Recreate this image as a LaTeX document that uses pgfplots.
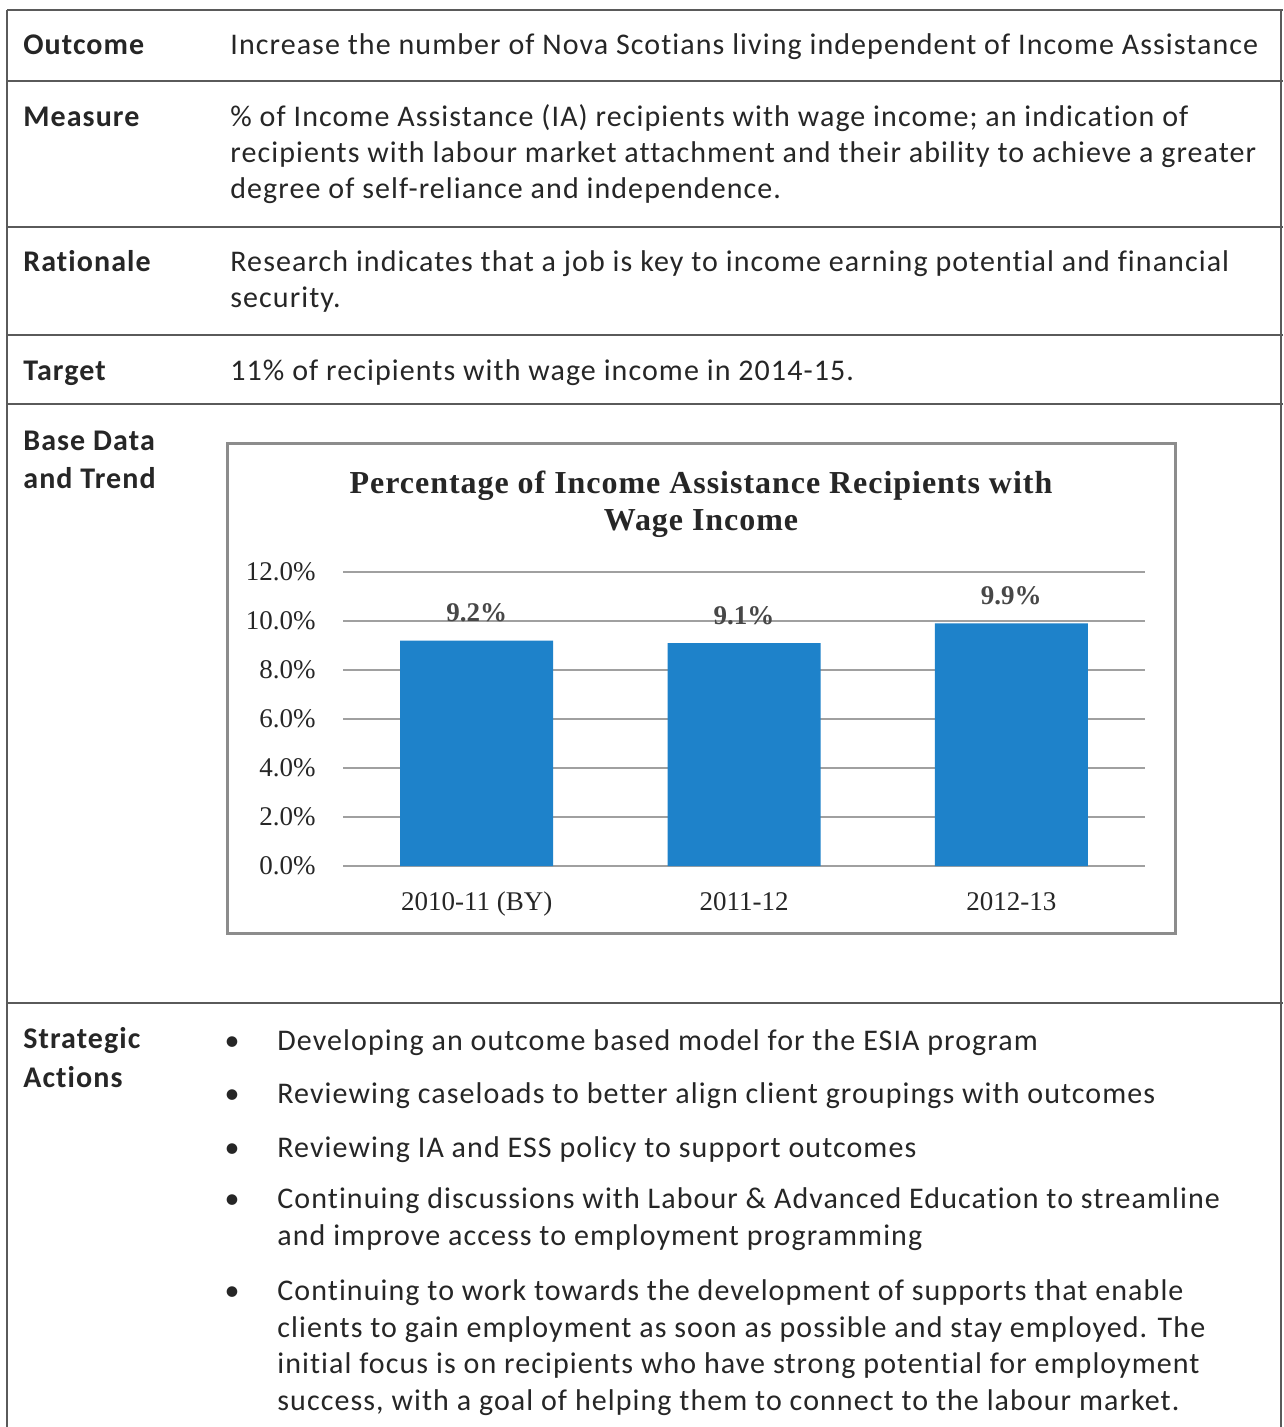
\documentclass[border=0pt]{standalone}
\usepackage{pgfplots}
\pgfplotsset{compat=1.18}
\usepackage{fontspec}
\setmainfont[LetterSpace=3.6,Ligatures=NoCommon]{Carlito}
\newfontfamily\chartfont{Liberation Serif}
\newfontfamily\titlefont[LetterSpace=3.0]{Liberation Serif}
\definecolor{txt}{HTML}{262626}
\definecolor{rulec}{HTML}{5A5A5A}
\definecolor{barblue}{HTML}{1E82CA}
\definecolor{gridc}{HTML}{A0A0A0}
\definecolor{boxc}{HTML}{8C8C8C}
\begin{document}
\begin{tikzpicture}[x=0.5pt,y=-0.5pt,
  t/.style={anchor=base west, inner sep=0pt, text=txt, font=\fontsize{15}{18}\selectfont},
  lb/.style={anchor=base west, inner sep=0pt, text=txt, font=\bfseries\fontsize{15}{18}\selectfont}]
\useasboundingbox (0,0) rectangle (1283,1427);
\fill[white] (0,0) rectangle (1283,1427);
% table rules
\begin{scope}[draw=rulec, line width=1.3pt]
\draw (7,10) -- (1283,10);
\draw (7,81) -- (1283,81);
\draw (7,227) -- (1283,227);
\draw (7,335) -- (1283,335);
\draw (7,404) -- (1283,404);
\draw (7,1003) -- (1283,1003);
\draw (7,10) -- (7,1427);
\draw (1281,10) -- (1281,1427);
\end{scope}
% labels
\node[lb] at (23,55) {Outcome};
\node[lb] at (23,127) {Measure};
\node[lb] at (23,272) {Rationale};
\node[lb] at (23,380) {Target};
\node[lb] at (23,451) {Base Data};
\node[lb] at (23,488) {and Trend};
\node[lb] at (23,1048) {Strategic};
\node[lb] at (23,1087) {Actions};
% content
\node[t] at (230,55) {Increase the number of Nova Scotians living independent of Income Assistance};
\node[t] at (230,127) {\% of Income Assistance (IA) recipients with wage income; an indication of};
\node[t] at (230,163) {recipients with labour market attachment and their ability to achieve a greater};
\node[t] at (230,199) {degree of self-reliance and independence.};
\node[t] at (230,272) {Research indicates that a job is key to income earning potential and financial};
\node[t] at (230,308) {security.};
\node[t] at (230,380) {11\% of recipients with wage income in 2014-15.};
% bullets
\foreach \yy in {1050,1103,1157,1208,1300} {\node[t, anchor=base] at (232,\yy) {•};}
\node[t] at (277,1050) {Developing an outcome based model for the ESIA program};
\node[t] at (277,1103) {Reviewing caseloads to better align client groupings with outcomes};
\node[t] at (277,1157) {Reviewing IA and ESS policy to support outcomes};
\node[t] at (277,1208) {Continuing discussions with Labour \& Advanced Education to streamline};
\node[t] at (277,1245) {and improve access to employment programming};
\node[t] at (277,1300) {Continuing to work towards the development of supports that enable};
\node[t] at (277,1337) {clients to gain employment as soon as possible and stay employed. The};
\node[t] at (277,1373) {initial focus is on recipients who have strong potential for employment};
\node[t] at (277,1410) {success, with a goal of helping them to connect to the labour market.};
% chart box
\draw[boxc, line width=1.5pt] (227,443) rectangle (1175,933);
\node[anchor=base, inner sep=0pt, text=txt, font=\titlefont\bfseries\fontsize{16}{19}\selectfont] at (701,493) {Percentage of Income Assistance Recipients with};
\node[anchor=base, inner sep=0pt, text=txt, font=\titlefont\bfseries\fontsize{16}{19}\selectfont] at (701,530) {Wage Income};
\begin{axis}[
  at={(171.5pt,-433pt)}, anchor=south west,
  width=401pt, height=147pt, scale only axis,
  xmin=-0.5, xmax=2.5, ymin=0, ymax=12,
  ytick={0,2,4,6,8,10,12}, xtick={0,1,2},
  xticklabels={2010-11 (BY),2011-12,2012-13},
  ymajorgrids, grid style={gridc, line width=1pt},
  axis line style={draw=none}, major tick length=0pt,
  ybar, bar width=76.5pt,
  /pgf/number format/assume math mode=true,
  yticklabel={\pgfmathprintnumber[fixed,fixed zerofill,precision=1]{\tick}\%},
  ticklabel style={font=\chartfont\fontsize{13.5}{16}\selectfont, text=txt},
  yticklabel style={inner sep=0pt, xshift=-13.5pt},
  xticklabel style={anchor=base, inner sep=0pt, yshift=-22pt},
  nodes near coords={\pgfmathprintnumber[fixed,fixed zerofill,precision=1]{\pgfplotspointmeta}\%},
  nodes near coords style={font=\chartfont\bfseries\fontsize{13.5}{16}\selectfont, text=txt!85, anchor=base, inner sep=0pt, yshift=9.5pt},
]
\addplot[fill=barblue, draw=none] coordinates {(0,9.2) (1,9.1) (2,9.9)};
\end{axis}
\end{tikzpicture}
\end{document}
